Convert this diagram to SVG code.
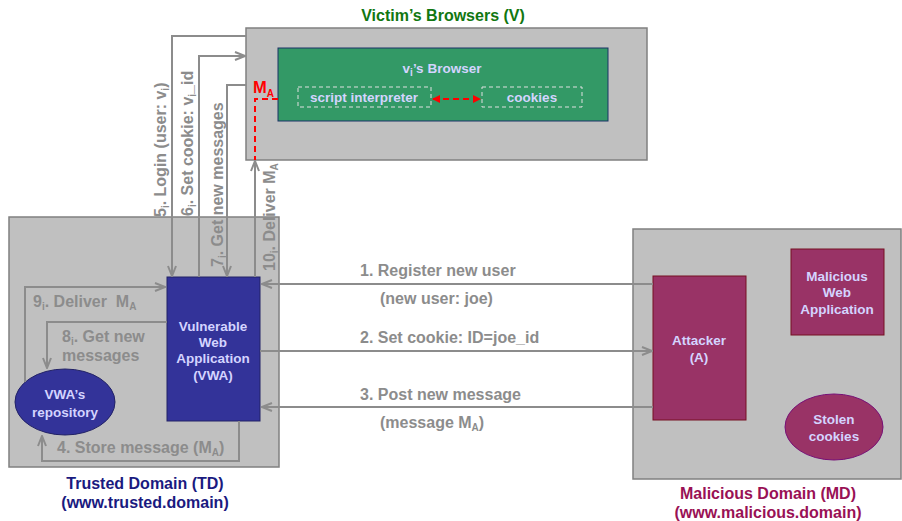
<svg xmlns="http://www.w3.org/2000/svg" width="902" height="521" viewBox="0 0 902 521">
<style>
text{font-family:"Liberation Sans",Arial,sans-serif;font-weight:bold}
.dom{fill:#c0c0c0;stroke:#808080;stroke-width:1.5}
.lbl{fill:#8c8c8c;font-size:16px}
.con{fill:none;stroke:#8c8c8c;stroke-width:2}
.nt{fill:#d4d4ff;font-size:13.5px;text-anchor:middle}
.sub{font-size:10px}
.red{fill:none;stroke:#ff0000;stroke-width:2;stroke-dasharray:6,4}
.dash{fill:none;stroke:#e0e0e0;stroke-width:1;stroke-dasharray:4,3}
</style>
<defs>
<marker id="ah" viewBox="0 0 12 10" refX="11" refY="5" markerWidth="12" markerHeight="10" markerUnits="userSpaceOnUse" orient="auto">
<path d="M1,1 L11,5 L1,9" fill="none" stroke="#8c8c8c" stroke-width="2"/>
</marker>
<marker id="rh" viewBox="0 0 8 8" refX="7" refY="4" markerWidth="8" markerHeight="8" markerUnits="userSpaceOnUse" orient="auto-start-reverse">
<path d="M0,0 L8,4 L0,8 Z" fill="#ff0000"/>
</marker>
</defs>

<g id="victim-domain">
<rect class="dom" x="246" y="28" width="401" height="132"/>
<text x="443" y="21" text-anchor="middle" font-size="16" fill="#117711">Victim’s Browsers (V)</text>
</g>
<g id="vi-browser">
<rect x="278" y="48" width="330" height="73" fill="#339966" stroke="#1a3366" stroke-width="1"/>
<text x="442" y="73" class="nt" font-size="13.5">v<tspan class="sub" dy="3">i</tspan><tspan dy="-3">’s Browser</tspan></text>
</g>
<g id="script-interpreter">
<rect class="dash" x="298" y="87" width="133" height="20"/>
<text x="364" y="102" class="nt">script interpreter</text>
</g>
<g id="cookies">
<rect class="dash" x="482" y="87" width="100" height="20"/>
<text x="532" y="102" class="nt">cookies</text>
</g>

<g id="trusted-domain">
<rect class="dom" x="9" y="217" width="270" height="250"/>
<text x="145" y="489" text-anchor="middle" font-size="16" fill="#1a1a80">Trusted Domain (TD)</text>
<text x="145" y="508" text-anchor="middle" font-size="16" fill="#1a1a80">(www.trusted.domain)</text>
</g>
<g id="vwa">
<rect x="167" y="277" width="93" height="144" fill="#333399" stroke="#222266" stroke-width="1"/>
<text x="213" y="331" class="nt">Vulnerable</text>
<text x="213" y="347" class="nt">Web</text>
<text x="213" y="363" class="nt">Application</text>
<text x="213" y="380" class="nt">(VWA)</text>
</g>
<g id="vwa-repository">
<ellipse cx="65" cy="402" rx="50" ry="33" fill="#333399" stroke="#222266" stroke-width="1"/>
<text x="65" y="399" class="nt">VWA’s</text>
<text x="65" y="417" class="nt">repository</text>
</g>

<g id="malicious-domain">
<rect class="dom" x="633" y="229" width="268" height="250"/>
<text x="768" y="499" text-anchor="middle" font-size="16" fill="#991155">Malicious Domain (MD)</text>
<text x="768" y="518" text-anchor="middle" font-size="16" fill="#991155">(www.malicious.domain)</text>
</g>
<g id="attacker">
<rect x="653" y="276" width="93" height="144" fill="#993366" stroke="#771122" stroke-width="1"/>
<text x="699" y="345" class="nt">Attacker</text>
<text x="699" y="362" class="nt">(A)</text>
</g>
<g id="malicious-web-app">
<rect x="791" y="249" width="93" height="86" fill="#993366" stroke="#771122" stroke-width="1"/>
<text x="837" y="281" class="nt">Malicious</text>
<text x="837" y="297" class="nt">Web</text>
<text x="837" y="314" class="nt">Application</text>
</g>
<g id="stolen-cookies">
<ellipse cx="834" cy="427" rx="49" ry="33" fill="#993366" stroke="#771177" stroke-width="1"/>
<text x="834" y="424" class="nt">Stolen</text>
<text x="834" y="441" class="nt">cookies</text>
</g>

<g id="connectors">
<path class="con" d="M246,36 H172 V276" marker-end="url(#ah)"/>
<path class="con" d="M199,277 V56 H245" marker-end="url(#ah)"/>
<path class="con" d="M246,85 H227 V276" marker-end="url(#ah)"/>
<path class="con" d="M255,277 V161" marker-end="url(#ah)"/>
<path class="con" d="M25,382 V287 H165" marker-end="url(#ah)"/>
<path class="con" d="M167,322 H47 V368" marker-end="url(#ah)"/>
<path class="con" d="M239,421 V461 H42 V436" marker-end="url(#ah)"/>
<path class="con" d="M653,284 H262" marker-end="url(#ah)"/>
<path class="con" d="M260,351 H652" marker-end="url(#ah)"/>
<path class="con" d="M653,407 H262" marker-end="url(#ah)"/>
<path class="red" d="M278,99 H255 V160"/>
<path class="red" d="M433,99 H480" marker-start="url(#rh)" marker-end="url(#rh)"/>
<text x="253" y="93" font-size="16.5" fill="#ff0000">M<tspan class="sub" dy="4">A</tspan></text>

<text class="lbl" transform="translate(166,217) rotate(-90)">5<tspan class="sub" dy="3">i</tspan><tspan dy="-3">. Login (user: v</tspan><tspan class="sub" dy="3">i</tspan><tspan dy="-3">)</tspan></text>
<text class="lbl" transform="translate(193,216) rotate(-90)">6<tspan class="sub" dy="3">i</tspan><tspan dy="-3">. Set cookie: v</tspan><tspan class="sub" dy="3">i</tspan><tspan dy="-3">_id</tspan></text>
<text class="lbl" transform="translate(223,267) rotate(-90)">7<tspan class="sub" dy="3">i</tspan><tspan dy="-3">. Get new messages</tspan></text>
<text class="lbl" transform="translate(275,271) rotate(-90)">10<tspan class="sub" dy="3">i</tspan><tspan dy="-3">. Deliver M</tspan><tspan class="sub" dy="3">A</tspan></text>

<text class="lbl" x="33" y="307" xml:space="preserve">9<tspan class="sub" dy="3">i</tspan><tspan dy="-3">. Deliver  M</tspan><tspan class="sub" dy="3">A</tspan></text>
<text class="lbl" x="62" y="342">8<tspan class="sub" dy="3">i</tspan><tspan dy="-3">. Get new</tspan></text>
<text class="lbl" x="62" y="361">messages</text>
<text class="lbl" x="57" y="453">4. Store message (M<tspan class="sub" dy="3">A</tspan><tspan dy="-3">)</tspan></text>

<text class="lbl" x="360" y="276">1. Register new user</text>
<text class="lbl" x="380" y="304">(new user: joe)</text>
<text class="lbl" x="360" y="343">2. Set cookie: ID=joe_id</text>
<text class="lbl" x="360" y="400">3. Post new message</text>
<text class="lbl" x="380" y="428">(message M<tspan class="sub" dy="3">A</tspan><tspan dy="-3">)</tspan></text>
</g>
</svg>
